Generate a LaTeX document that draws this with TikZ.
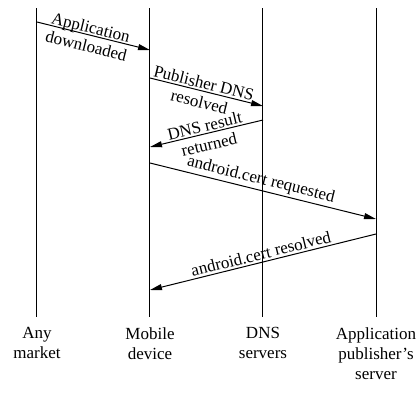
\documentclass[tikz,border=0pt]{standalone}
\usepackage{fontspec}
\setmainfont{Liberation Serif}
\usetikzlibrary{arrows.meta}
\begin{document}
\begin{tikzpicture}[x=0.5pt,y=-0.5pt, line width=0.5pt,
  msg/.style={-{Triangle[length=6pt,width=3pt]}},
  lbl/.style={font=\fontsize{8.5}{9.6}\selectfont, align=center, inner sep=1pt},
  two/.style={yshift=-0.8pt},
  actor/.style={font=\fontsize{8.5}{10}\selectfont, align=center, anchor=north, inner sep=0pt}]
\useasboundingbox (0,0) rectangle (419,403);
% lifelines
\coordinate (aT) at (37,8);  \coordinate (aB) at (37,317);
\coordinate (bT) at (150,8); \coordinate (bB) at (150,317);
\coordinate (cT) at (263,8); \coordinate (cB) at (263,317);
\coordinate (dT) at (376,8); \coordinate (dB) at (376,317);
\draw (aT) -- (aB);
\draw (bT) -- (bB);
\draw (cT) -- (cB);
\draw (dT) -- (dB);
% message endpoints
\coordinate (m1s) at (37,22);  \coordinate (m1e) at (150,50);
\coordinate (m2s) at (150,78); \coordinate (m2e) at (263,106);
\coordinate (m3s) at (263,120);\coordinate (m3e) at (150,147);
\coordinate (m4s) at (150,163);\coordinate (m4e) at (376,219);
\coordinate (m5s) at (376,234);\coordinate (m5e) at (150,290);
\draw[msg] (m1s) -- node[lbl, two, pos=0.46, sloped] (l1) {Application\\downloaded} (m1e);
\draw[msg] (m2s) -- node[lbl, two, pos=0.46, sloped] (l2) {Publisher DNS\\resolved} (m2e);
\draw[msg] (m3s) -- node[lbl, two, midway, sloped] (l3) {DNS result\\returned} (m3e);
\draw[msg] (m4s) -- node[lbl, pos=0.48, sloped, above] (l4) {android.cert requested} (m4e);
\draw[msg] (m5s) -- node[lbl, midway, sloped, above] (l5) {android.cert resolved} (m5e);
% actors
\node[actor] (any) at (37,327) {Any\\market};
\node[actor] (mob) at (150,327) {Mobile\\device};
\node[actor] (dns) at (263,327) {DNS\\servers};
\node[actor] (pub) at (376,327) {Application\\publisher's\\server};
\end{tikzpicture}
\end{document}
